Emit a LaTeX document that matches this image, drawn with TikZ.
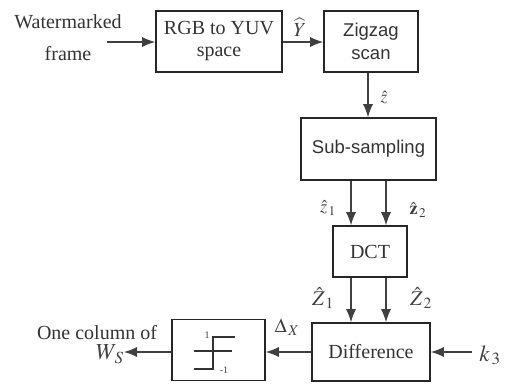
\documentclass[tikz,border=0pt]{standalone}
\usepackage{mathptmx}
\usepackage[no-math]{fontspec}
\setmainfont{Liberation Serif}
\newfontfamily\boxsans{Liberation Sans}
\usetikzlibrary{arrows.meta}
\tikzset{
  box/.style={draw=black!85, line width=1.6pt, inner sep=0pt, align=center,
    font=\fontsize{20}{22}\selectfont, text=black!80},
  sbox/.style={box, font=\boxsans\fontsize{18.5}{23}\selectfont},
  arr/.style={draw=black!75, line width=1.1pt, -{Latex[length=13pt,width=10pt]}},
  lbl/.style={inner sep=0pt, text=black!75},
  txt/.style={inner sep=0pt, text=black!80, font=\fontsize{20}{22}\selectfont},
  thin/.style={draw=black!80, line width=1.3pt}
}
\begin{document}
\begin{tikzpicture}[x=1pt,y=-1pt]
\useasboundingbox (0,0) rectangle (508,383);
% boxes
\node[box, minimum width=126pt, minimum height=61pt] (rgb) at (219,41.5) {RGB to YUV\\space};
\node[sbox, minimum width=94pt, minimum height=61pt] (zig) at (371,41.5) {Zigzag\\scan};
\node[sbox, minimum width=135pt, minimum height=62pt] (sub) at (368.5,149) {Sub-sampling};
\node[box, minimum width=74pt, minimum height=51pt] (dct) at (370,251.5) {DCT};
\node[box, minimum width=118pt, minimum height=58pt] (diff) at (371,352) {Difference};
\node[box, minimum width=93pt, minimum height=61pt] (sign) at (218.5,350) {};
% texts
\node[txt] (wm) at (68,22) {Watermarked};
\node[txt] (fr) at (68,54) {frame};
\coordinate (in) at (107,42);
\node[txt] (one) at (97,333) {One column of};
\node[lbl, anchor=east, font=\fontsize{23}{25}\selectfont] (ws) at (124,354) {$W_{\,S}$};
\coordinate (k3in) at (472,352);
\node[lbl, font=\fontsize{23}{25}\selectfont] (k3) at (490,355) {$k_{\,3}$};
% arrows
\draw[arr] (in) -- (rgb.west |- in);
\draw[arr] (rgb.east |- in) -- (zig.west |- in);
\node[lbl, font=\fontsize{20}{22}\selectfont] (yl) at (300,27) {$\widehat{Y}$};
\draw[arr] (zig.south -| 368,0) -- (sub.north -| 368,0);
\node[lbl, font=\fontsize{17}{19}\selectfont] (zl) at (384,97) {$\hat{z}$};
\draw[arr] (sub.south -| 351,0) -- (dct.north -| 351,0);
\draw[arr] (sub.south -| 386,0) -- (dct.north -| 386,0);
\node[lbl, font=\fontsize{18}{20}\selectfont] (z1) at (328,208) {$\hat{z}_{\,1}$};
\node[lbl, font=\fontsize{18}{20}\selectfont] (z2) at (418,210) {$\hat{\mathbf{z}}_{\,2}$};
\draw[arr] (dct.south -| 351,0) -- (diff.north -| 351,0);
\draw[arr] (dct.south -| 386,0) -- (diff.north -| 386,0);
\node[lbl, font=\fontsize{21}{23}\selectfont] (Z1) at (323,298) {$\hat{Z}_{\,1}$};
\node[lbl, font=\fontsize{21}{23}\selectfont] (Z2) at (421,298) {$\hat{Z}_{\,2}$};
\draw[arr] (k3in) -- (diff.east |- k3in);
\draw[arr] (diff.west) -- (sign.east |- diff.west);
\node[lbl, font=\fontsize{20}{22}\selectfont] (dx) at (287,327) {$\Delta_{\,X}$};
\draw[arr] (sign.west |- diff.west) -- (ws.east |- diff.west);
% sign function glyph
\draw[thin] (194,351) -- (232,351);
\draw[thin] (194,369) -- (213,369) -- (213,337) -- (235,337);
\node[lbl, font=\fontsize{10}{12}\selectfont] (one1) at (207,335) {1};
\node[lbl, font=\fontsize{10}{12}\selectfont] (mone) at (224,370) {-1};
\end{tikzpicture}
\end{document}
